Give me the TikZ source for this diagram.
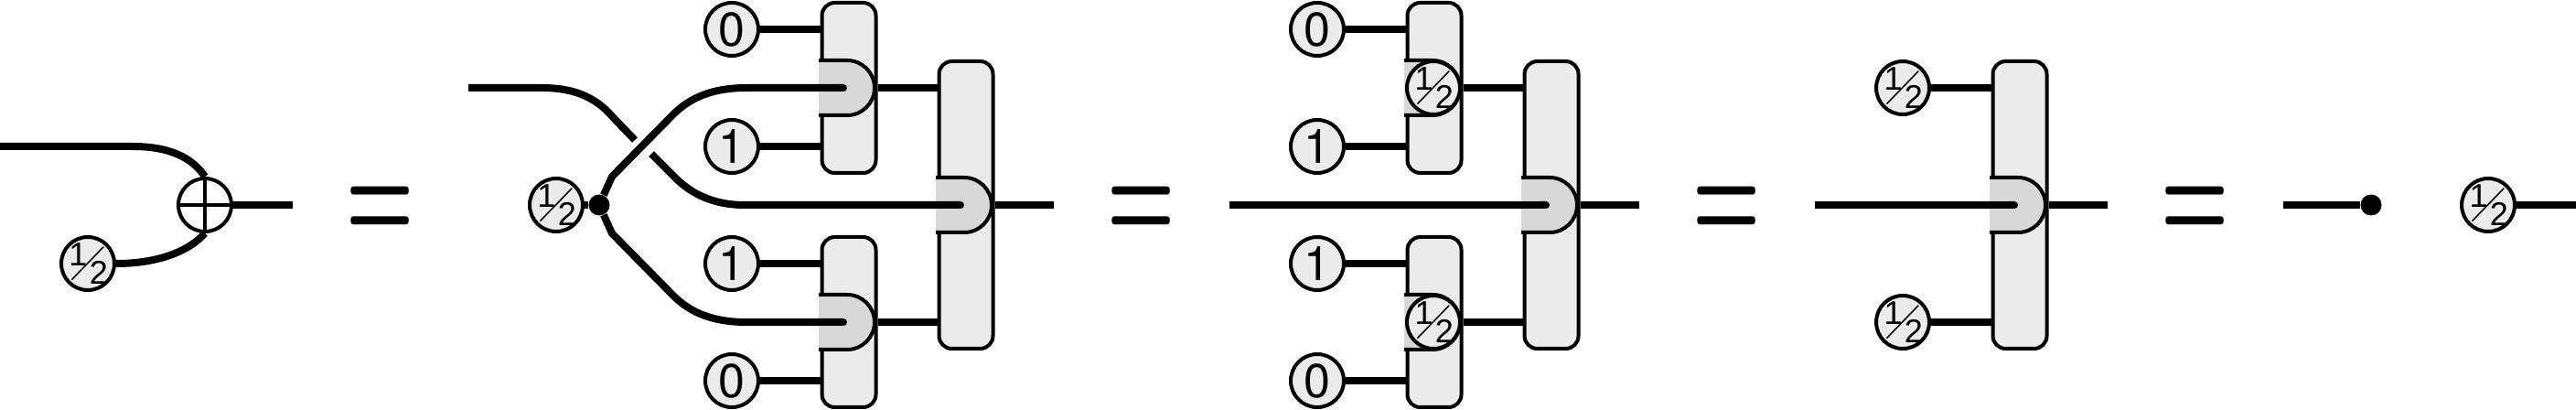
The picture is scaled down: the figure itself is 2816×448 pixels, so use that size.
\documentclass[tikz,border=0pt]{standalone}
\usepackage{fontspec}
\usepackage{amssymb}
\setmainfont{TeX Gyre Heros}
\newfontfamily\halffont{Liberation Sans}
\usetikzlibrary{arrows.meta}

\definecolor{boxgray}{HTML}{EBEBEB}
\definecolor{notchgray}{HTML}{D8D8D8}

\newcommand{\halfmark}{\smash{\halffont\fontsize{18}{18}\selectfont
  \makebox[0pt]{\kern-10.5pt\raisebox{-1.2pt}{1}}%
  \makebox[0pt]{\kern11.8pt\raisebox{-11.4pt}{2}}%
  \makebox[0pt]{\kern0.5pt\fontsize{20.74}{20.74}\selectfont\raisebox{-5.4pt}{$\diagup$}}}}
\newcommand{\eqmark}{\scalebox{4.15}[7.3]{\usefont{OT1}{cmr}{bx}{n}=}}

\tikzset{
  wire/.style={line width=4pt},
  state/.style={draw,circle,line width=2pt,fill=boxgray,minimum size=29pt,inner sep=0pt,font=\fontsize{26}{26}\selectfont},
  halfstate/.style={state},
  junction/.style={circle,fill=black,minimum size=11.5pt,inner sep=0pt},
  smallbox/.style={draw,rectangle,rounded corners=7pt,line width=2pt,fill=boxgray,minimum width=29.5pt,minimum height=93pt,inner sep=0pt},
  bigbox/.style={smallbox,minimum height=157pt},
  eqsign/.style={inner sep=0pt},
  notch/.pic={
    \fill[notchgray] (-33,-30) -- (-2,-30) arc (-90:90:30) -- (-33,30) -- cycle;
    \draw[line width=2pt] (-33,-30) -- (-2,-30) arc (-90:90:30) -- (-33,30);
    \coordinate (-in) at (-2,0);
  }
}

\begin{document}
\begin{tikzpicture}[x=0.5pt,y=-0.5pt]
  \useasboundingbox (0,0) rectangle (2816,448);

  % xor gate
  \coordinate (ina) at (0,160);
  \coordinate (outa) at (320,224);
  \node[state,fill=white] (xor) at (224,224) {};
  \node[halfstate] (ha) at (96,288) {\halfmark};
  \draw[line width=2pt] (xor.north) -- (xor.south);
  \draw[line width=2pt] (xor.west) -- (xor.east);
  \draw[wire] (ina) -- (145,160) .. controls (185,160) and (210,172) .. (xor.north);
  \draw[wire] (ha.east) .. controls (170,288) and (205,276) .. (xor.south);
  \draw[wire] (xor.east) -- (outa);
  \node[eqsign] (eqa) at (416,233) {\eqmark};

  % boxes of the second term
  \node[smallbox] (ba) at (928,96) {};
  \node[smallbox] (bb) at (928,352) {};
  \node[bigbox] (bc) at (1056,224) {};
  \pic (na) at (928,96) {notch};
  \pic (nb) at (928,352) {notch};
  \pic (nc) at (1056,224) {notch};
  \node[state] (s0a) at (800,32) {0};
  \node[state] (s1a) at (800,160) {1};
  \node[state] (s1b) at (800,288) {1};
  \node[state] (s0b) at (800,416) {0};
  \node[halfstate] (hb) at (608,224) {\halfmark};
  \node[junction] (fork) at (655,224) {};
  \coordinate (inb) at (512,96);
  \coordinate (outb) at (1152,224);
  \draw[wire] (s0a) -- (s0a -| ba.west);
  \draw[wire] (s1a) -- (s1a -| ba.west);
  \draw[wire] (s1b) -- (s1b -| bb.west);
  \draw[wire] (s0b) -- (s0b -| bb.west);
  \draw[wire] (ba.east) -- (ba.east -| bc.west);
  \draw[wire] (bb.east) -- (bb.east -| bc.west);
  \draw[wire] (hb) -- (fork);
  \draw[wire,-{Round Cap[]}] (fork) -- (669,193) -- (736,125) .. controls (755,106) and (780,96) .. (816,96) -- (na-in);
  \draw[wire,-{Round Cap[]}] (fork) -- (669,255) -- (736,323) .. controls (755,342) and (780,352) .. (816,352) -- (nb-in);
  \draw[wire] (inb) -- (593,96) .. controls (625,96) and (650,105) .. (669,127) -- (694,153);
  \draw[wire,-{Round Cap[]}] (712,168) -- (736,192) .. controls (755,212) and (780,224) .. (814,224) -- (nc-in);
  \draw[wire] (bc.east) -- (outb);
  \node[eqsign] (eqb) at (1248,233) {\eqmark};

  % third term
  \node[smallbox] (bd) at (1568,96) {};
  \node[smallbox] (be) at (1568,352) {};
  \node[bigbox] (bf) at (1696,224) {};
  \pic (nd) at (1568,96) {notch};
  \pic (ne) at (1568,352) {notch};
  \pic (nf) at (1696,224) {notch};
  \node[halfstate] (hc) at (1567,96) {\halfmark};
  \node[halfstate] (hd) at (1567,352) {\halfmark};
  \node[state] (s0c) at (1440,32) {0};
  \node[state] (s1c) at (1440,160) {1};
  \node[state] (s1d) at (1440,288) {1};
  \node[state] (s0d) at (1440,416) {0};
  \coordinate (inc) at (1344,224);
  \coordinate (outc) at (1792,224);
  \draw[wire] (s0c) -- (s0c -| bd.west);
  \draw[wire] (s1c) -- (s1c -| bd.west);
  \draw[wire] (s1d) -- (s1d -| be.west);
  \draw[wire] (s0d) -- (s0d -| be.west);
  \draw[wire] (bd.east) -- (bd.east -| bf.west);
  \draw[wire] (be.east) -- (be.east -| bf.west);
  \draw[wire,-{Round Cap[]}] (inc) -- (nf-in);
  \draw[wire] (bf.east) -- (outc);
  \node[eqsign] (eqc) at (1888,233) {\eqmark};

  % fourth term
  \node[bigbox] (bg) at (2208,224) {};
  \pic (ng) at (2208,224) {notch};
  \node[halfstate] (he) at (2080,96) {\halfmark};
  \node[halfstate] (hf) at (2080,352) {\halfmark};
  \coordinate (ind) at (1984,224);
  \coordinate (outd) at (2304,224);
  \draw[wire] (he) -- (he -| bg.west);
  \draw[wire] (hf) -- (hf -| bg.west);
  \draw[wire,-{Round Cap[]}] (ind) -- (ng-in);
  \draw[wire] (bg.east) -- (outd);
  \node[eqsign] (eqd) at (2400,233) {\eqmark};

  % last term
  \coordinate (ine) at (2496,224);
  \coordinate (oute) at (2816,224);
  \node[junction] (stop) at (2592,224) {};
  \node[halfstate] (hg) at (2720,224) {\halfmark};
  \draw[wire] (ine) -- (stop);
  \draw[wire] (hg) -- (oute);
\end{tikzpicture}
\end{document}
